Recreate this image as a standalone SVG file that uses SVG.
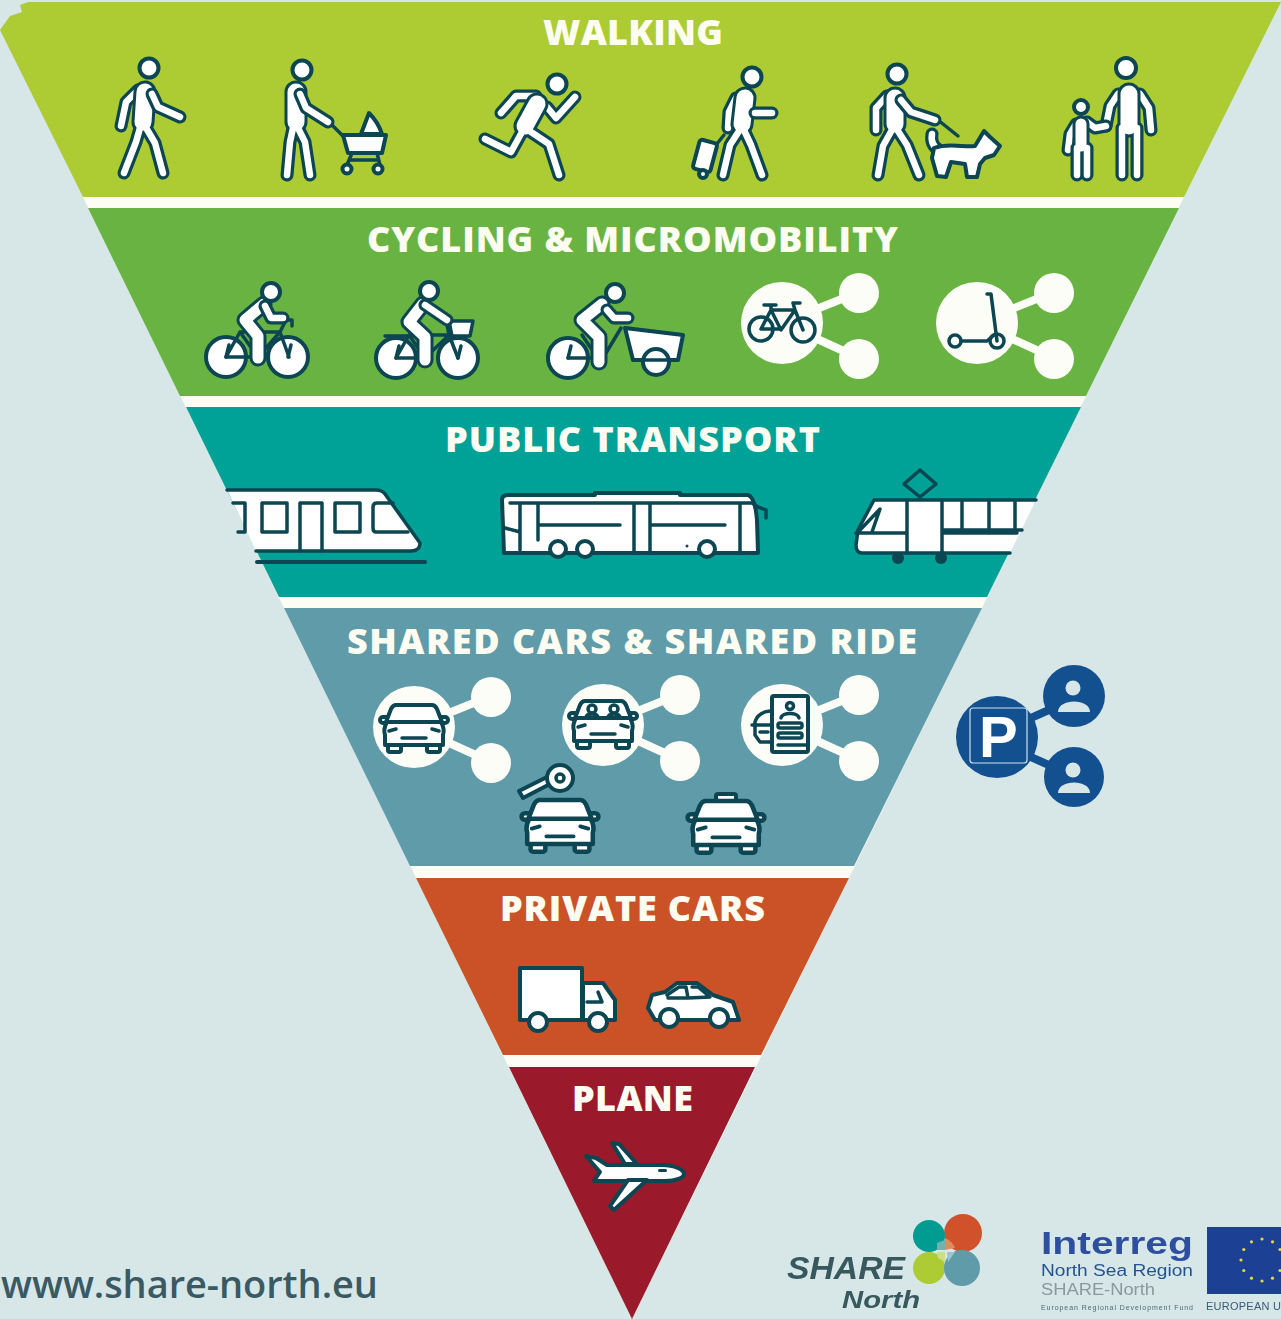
<svg xmlns="http://www.w3.org/2000/svg" width="1281" height="1319" viewBox="0 0 1281 1319">
<style>
.band{stroke:none}
.lab{font-family:"Open Sans",sans-serif;font-weight:800;font-size:36px;fill:#fdfdf2}
.o,.i,.ot,.it,.ob,.ib{fill:none;stroke-linecap:round;stroke-linejoin:round}
.o{stroke:#0b4652;stroke-width:13}.i{stroke:#fff;stroke-width:6.5}
.ot{stroke:#0b4652;stroke-width:23}.it{stroke:#fff;stroke-width:17}
.ob{stroke:#0b4652;stroke-width:17}.ib{stroke:#fff;stroke-width:11}
.v{fill:#fff;stroke:#0b4652;stroke-width:4;stroke-linejoin:round;stroke-linecap:round}
.d{fill:none;stroke:#0b4652;stroke-width:3.5;stroke-linejoin:round;stroke-linecap:round}
.n{fill:#fff;stroke:none}
.s{fill:#fdfdf8}.sl{stroke:#fdfdf8;stroke-width:8}
.pk{fill:#13508f}.pl{stroke:#13508f;stroke-width:8}.pp{fill:#d7e7e8}
.star{fill:#e6d93a}
.logo{font-family:"Liberation Sans",sans-serif}
</style>
<defs>
<filter id="soft" x="-5%" y="-5%" width="110%" height="110%"><feGaussianBlur stdDeviation="0.7"/></filter>
<g id="car">
<rect class="v" x="-34" y="12" width="9" height="6" rx="3"/><rect class="v" x="25" y="12" width="9" height="6" rx="3"/>
<rect class="v" x="-26" y="38" width="13" height="9" rx="2"/><rect class="v" x="13" y="38" width="13" height="9" rx="2"/>
<path class="v" d="M-27 17H27Q31 24 29 30V40H-29V30Q-31 24-27 17Z"/>
<path class="v" d="M-18 0H18Q21 0 23 4L28 17H-28L-23 4Q-21 0-18 0Z"/>
<path class="d" d="M-12 33H12M-25 26L-18 24M25 26L18 24"/>
</g>
<g id="share">
<line class="sl" x1="0" y1="0" x2="77" y2="-31"/><line class="sl" x1="0" y1="0" x2="77" y2="35"/>
<circle class="s" r="41"/><circle class="s" cx="77" cy="-30" r="20"/><circle class="s" cx="77" cy="36" r="20"/>
</g>
<g id="wheelpair"><circle class="v" cx="0" cy="0" r="20"/><path class="d" d="M0 0L3 -12"/></g>
</defs>
<rect width="1281" height="1319" fill="#d7e7e8"/>
<g id="pyramid">
<polygon points="83,195 1185,195 1184,197 632,1319 83,197" fill="#fdfdf4"/>
<polygon id="band-walking" class="band" fill="#adcb33" points="0,30 10,16 22,12 20,5 28,2 1281,2 1184,197 83,197"/>
<polygon id="band-cycling" class="band" fill="#69b342" points="88,208 1179,208 1086,396 180,396"/>
<polygon id="band-public" class="band" fill="#00a196" points="186,407 1081,407 987,597 279,597"/>
<polygon id="band-shared" class="band" fill="#5f9ba8" points="284,608 982,608 854,866 410,866"/>
<polygon id="band-private" class="band" fill="#cb5227" points="416,878 849,878 761,1055 503,1055"/>
<polygon id="band-plane" class="band" fill="#9a1a2b" points="509,1067 755,1067 632,1319"/>
</g>
<g id="labels">
<text class="lab" x="543" y="45" textLength="180">WALKING</text>
<text class="lab" x="367" y="252" textLength="531">CYCLING &amp; MICROMOBILITY</text>
<text class="lab" x="445" y="452" textLength="375">PUBLIC TRANSPORT</text>
<text class="lab" x="347" y="654" textLength="570">SHARED CARS &amp; SHARED RIDE</text>
<text class="lab" x="500" y="921" textLength="265">PRIVATE CARS</text>
<text class="lab" x="572" y="1111" textLength="121">PLANE</text>
</g>
<g id="walker">
<path class="o" d="M138 90L126 102L121 126"/><path class="i" d="M138 90L126 102L121 126"/>
<path class="ot" d="M145 92L143 122"/><path class="o" d="M145 126L155 143L163 173M140 128L136 142L124 173"/>
<path class="it" d="M145 92L143 122"/><path class="i" d="M145 126L155 143L163 173M140 128L136 142L124 173"/>
<path class="o" d="M152 94L158 107L180 117"/><path class="i" d="M152 94L158 107L180 117"/>
<circle class="v" cx="149" cy="68" r="9.5"/>
</g>
<g id="stroller-walker">
<path class="d" d="M330 123L347 140M352 153L347 165M377 153L380 165M350 160H378"/>
<path class="v" d="M369 113L361 134H382Q378 122 369 113Z"/>
<path class="v" d="M343 135H386L382 153H348Z"/>
<circle class="v" cx="347" cy="169" r="4.5"/><circle class="v" cx="378" cy="169" r="4.5"/>
<path class="ot" d="M296 92V122"/><path class="o" d="M297 126L305 142L310 175M293 128L290 142L287 175"/>
<path class="it" d="M296 92V122"/><path class="i" d="M297 126L305 142L310 175M293 128L290 142L287 175"/>
<path class="o" d="M300 94L306 108L328 122"/><path class="i" d="M300 94L306 108L328 122"/>
<circle class="v" cx="302" cy="70" r="9.5"/>
</g>
<g id="runner">
<path class="o" d="M536 96L516 96L501 113"/><path class="i" d="M536 96L516 96L501 113"/>
<path class="o" d="M547 107L556 118L575 97"/><path class="i" d="M547 107L556 118L575 97"/>
<path class="ot" d="M537 104L525 126"/><path class="o" d="M522 132L511 152L485 139M528 130L549 144L559 175"/>
<path class="it" d="M537 104L525 126"/><path class="i" d="M522 132L511 152L485 139M528 130L549 144L559 175"/>
<circle class="v" cx="557" cy="84" r="9.5"/>
</g>
<g id="luggage-walker">
<path class="d" d="M724 135L712 150"/>
<rect class="v" x="696" y="141" width="18" height="30" rx="3" transform="rotate(15 705 156)"/>
<circle class="v" cx="703" cy="174" r="4"/>
<path class="o" d="M736 98L729 112L728 128"/><path class="i" d="M736 98L729 112L728 128"/>
<path class="ot" d="M745 98L742 124"/><path class="o" d="M741 128L730 145L723 175M743 128L751 145L762 175"/>
<path class="it" d="M745 98L742 124"/><path class="i" d="M741 128L730 145L723 175M743 128L751 145L762 175"/>
<path class="o" d="M755 113H772"/><path class="i" d="M755 113H772"/>
<circle class="v" cx="752" cy="77" r="9.5"/>
</g>
<g id="dog-walker">
<path class="d" d="M938 120L958 136"/>
<path class="o" d="M939 150C932 146 931 140 932 134"/><path class="i" d="M939 150C932 146 931 140 932 134"/>
<path class="v" d="M934 148C950 142 965 148 975 146L984 131L990 137L1000 146L994 155L985 158L980 164L977 177L967 177L965 164L951 162L946 177L937 176L932 158Z"/>
<path class="o" d="M887 96L876 108L876 130"/><path class="i" d="M887 96L876 108L876 130"/>
<path class="ot" d="M895 98V124"/><path class="o" d="M893 128L883 146L878 175M896 128L907 145L919 175"/>
<path class="it" d="M895 98V124"/><path class="i" d="M893 128L883 146L878 175M896 128L907 145L919 175"/>
<path class="o" d="M901 100L911 112L935 120"/><path class="i" d="M901 100L911 112L935 120"/>
<circle class="v" cx="897" cy="74" r="9.5"/>
</g>
<g id="adult-child">
<path class="o" d="M1118 94L1110 106L1106 126M1140 94L1149 108L1151 130"/><path class="i" d="M1118 94L1110 106L1106 126M1140 94L1149 108L1151 130"/>
<path class="ot" d="M1129 94V126"/><path class="o" d="M1122 128V175M1137 128V175"/>
<path class="it" d="M1129 94V126"/><path class="i" d="M1122 128V175M1137 128V175"/>
<circle class="v" cx="1126" cy="68" r="10"/>
<path class="o" d="M1076 124L1070 134L1068 150M1087 122L1095 128L1106 126"/><path class="i" d="M1076 124L1070 134L1068 150M1087 122L1095 128L1106 126"/>
<path class="ob" d="M1081 124V146"/><path class="o" d="M1077 148V175M1087 148V175"/>
<path class="ib" d="M1081 124V146"/><path class="i" d="M1077 148V175M1087 148V175"/>
<circle class="v" cx="1081" cy="107" r="7"/>
</g>
<g id="bike">
<use href="#wheelpair" x="226" y="357"/><use href="#wheelpair" x="288" y="357"/>
<path class="d" d="M226 357L240 332H280L289 357M240 332L258 357L280 332M280 332L286 320L292 320L292 326M226 357H258"/>
<path class="ob" d="M264 304L245 320L258 336L258 358"/><path class="ib" d="M264 304L245 320L258 336L258 358"/>
<path class="o" d="M265 306L271 318L283 318"/><path class="i" d="M265 306L271 318L283 318"/>
<circle class="v" cx="271" cy="292" r="9"/>
</g>
<g id="basket-bike">
<use href="#wheelpair" x="396" y="358"/><use href="#wheelpair" x="458" y="358"/>
<path class="d" d="M385 336H408M396 358L409 335H449L458 358M409 335L425 358L449 335M449 335L446 320M396 358H425"/>
<path class="d" d="M449 321H473L470 336H452Z" style="fill:#fff"/>
<path class="ob" d="M423 304L409 322L425 337L425 360"/><path class="ib" d="M423 304L409 322L425 337L425 360"/>
<path class="o" d="M425 305L447 320"/><path class="i" d="M425 305L447 320"/>
<circle class="v" cx="429" cy="291" r="9"/>
</g>
<g id="cargo-bike">
<use href="#wheelpair" x="568" y="358"/>
<path class="v" d="M625 328L683 335L678 360H633Z"/>
<circle class="v" cx="656" cy="362" r="13"/>
<path class="d" d="M643 360H669"/>
<path class="d" d="M621 328L606 353M568 358H599M582 335L599 360"/>
<path class="ob" d="M602 304L582 320L599 337L599 362"/><path class="ib" d="M602 304L582 320L599 337L599 362"/>
<path class="o" d="M607 310L614 318L628 318"/><path class="i" d="M607 310L614 318L628 318"/>
<circle class="v" cx="615" cy="293" r="9"/>
</g>
<g id="shared-bike">
<use href="#share" x="782" y="323"/>
<g class="d"><circle cx="761" cy="329" r="12"/><circle cx="803" cy="330" r="12"/>
<path d="M761 329L771 310H795L803 330M771 310L781 330L795 310M764 305H776M771 305V310M793 303L795 310M793 303H800M761 329H781"/></g>
</g>
<g id="shared-scooter">
<use href="#share" x="977" y="323"/>
<g class="d"><circle cx="955" cy="341" r="6"/><circle cx="997" cy="341" r="7"/>
<path d="M961 341H987L994 335M997 341L991 294H987"/></g>
</g>
<g id="train">
<path class="n" d="M227 490H376Q382 490 385 494L420 543Q420 551 411 551H256Z"/>
<path class="d" d="M227 490H376Q382 490 385 494L420 543Q420 551 411 551H256"/>
<path class="d" d="M233 503H245V532H238M262 503H287V532H262ZM300 551V503H322V551M335 503H360V532H335ZM408 532H376Q373 532 373 528V507Q373 503 377 503H393"/>
<path class="d" d="M257 562H425" style="stroke-width:4"/>
</g>
<g id="bus">
<path class="v" d="M508 495H595V493H680V495H748Q755 497 757 520L758 553H504L502 500Q502 495 508 495Z"/>
<path class="d" d="M510 503H752L758 507L766 510V518M520 503V550M538 503V540M538 525H620M634 503V553M650 503V553M650 525H725M740 503V553M505 528L520 532"/>
<circle class="v" cx="558" cy="549" r="8"/><circle class="v" cx="585" cy="549" r="8"/><circle class="v" cx="707" cy="549" r="8"/>
<circle cx="687" cy="546" r="1.5" fill="#0b4652"/>
</g>
<g id="tram">
<path class="d" d="M920 470L936 484L920 497L904 484Z"/>
<circle cx="898" cy="558" r="6" fill="#0b4652"/><circle cx="941" cy="558" r="6" fill="#0b4652"/>
<path class="n" d="M874 500H1036L1010 553H862Q856 553 856 545L858 530Z"/>
<path class="d" d="M1036 500H874L858 530L856 545Q856 553 862 553H1010"/>
<path class="d" d="M907 500V553M942 500V553M856 533H907M942 530H1022M942 533H1017M860 530L880 509L872 532M962 500V530M989 500V530M1015 500V530"/>
</g>
<g id="shared-car"><use href="#share" x="414" y="727"/><use href="#car" x="414" y="705"/></g>
<g id="shared-ride">
<use href="#share" x="603" y="725"/><use href="#car" x="603" y="701"/>
<g class="d"><circle cx="592" cy="709" r="4"/><circle cx="614" cy="709" r="4"/><path d="M586 717C587 713 597 713 598 717M608 717C609 713 619 713 620 717"/></g>
</g>
<g id="shared-app">
<use href="#share" x="782" y="725"/>
<path class="d" d="M770 711Q758 712 755 722V735L760 742H770M752 725H770M760 732H768"/>
<rect class="v" x="772" y="696" width="36" height="56" rx="2"/>
<circle class="d" cx="790" cy="706" r="3.5"/><path class="d" d="M781 718C782 712 798 712 799 718M778 745H806"/>
<rect class="d" x="778" y="723" width="24" height="5" rx="2"/><rect class="d" x="778" y="733" width="24" height="5" rx="2"/>
</g>
<g id="key-car">
<path class="v" d="M519 791L549 776L552 783L523 798Z"/>
<circle class="v" cx="560" cy="778" r="13"/>
<circle class="d" cx="560" cy="778" r="4"/>
<use href="#car" transform="translate(560 800) scale(1.13 1.1)"/>
</g>
<g id="taxi">
<rect class="v" x="716" y="794" width="20" height="9" rx="2"/>
<use href="#car" transform="translate(726 801) scale(1.13 1.1)"/>
</g>
<g id="truck">
<rect class="v" x="520" y="968" width="62" height="52"/>
<path class="v" d="M583 983H603L615 1000V1020H583Z"/>
<path class="d" d="M587 1002H602L598 992"/>
<circle class="v" cx="538" cy="1022" r="9"/><circle class="v" cx="598" cy="1022" r="9"/>
</g>
<g id="private-car">
<path class="v" d="M648 1008L652 995L665 992L677 983H697L713 995L733 1002L739 1020H655Z"/>
<path class="d" d="M667 995L679 987H686L688 998M692 987H698L710 997L688 998H668"/>
<circle class="v" cx="669" cy="1018" r="9"/><circle class="v" cx="719" cy="1018" r="9"/>
</g>
<g id="plane">
<path class="v" d="M612 1143L619 1144L637 1164H625Z"/>
<path class="v" d="M586 1156L596 1158L607 1165H662C675 1165 684 1170 684 1174C684 1178 676 1181 665 1181H594L600 1172Z"/>
<path class="v" d="M628 1180H647L614 1210L610 1206Z"/>
<rect x="658" y="1169" width="9" height="3" rx="1.5" fill="#0b4652"/>
</g>
<g id="parking-share">
<line class="pl" x1="1015" y1="725" x2="1060" y2="705"/><line class="pl" x1="1015" y1="750" x2="1060" y2="770"/>
<circle class="pk" cx="997" cy="737" r="41"/><circle class="pk" cx="1074" cy="696" r="31"/><circle class="pk" cx="1074" cy="777" r="30"/>
<rect x="970" y="708" width="57" height="55" rx="3" fill="none" stroke="#cfe0e8" stroke-width="1.2"/>
<text class="logo" x="979" y="757" font-weight="700" font-size="58" fill="#fff">P</text>
<circle class="pp" cx="1073" cy="688" r="7.5"/><path class="pp" d="M1058 712C1058 698 1090 698 1090 712Z"/>
<circle class="pp" cx="1073" cy="770" r="7.5"/><path class="pp" d="M1058 793C1058 779 1090 779 1090 793Z"/>
</g>
<text id="url" x="1" y="1298" font-family="Open Sans,sans-serif" font-weight="600" font-size="38" fill="#3a5a63" textLength="377">www.share-north.eu</text>
<g id="share-north-logo" filter="url(#soft)">
<circle cx="963" cy="1233" r="19" fill="#d0512c"/><circle cx="929" cy="1236" r="16" fill="#049c92"/>
<circle cx="929" cy="1268" r="16" fill="#adcb33"/><circle cx="962" cy="1268" r="18" fill="#5f9ba8"/>
<path d="M945 1238A18 18 0 0 1 955 1248L945 1250Z" fill="#e08a5e"/><path d="M937 1250H945V1240L937 1243Z" fill="#6fb3ae"/><path d="M937 1252H945V1262L938 1258Z" fill="#cfdc88"/><path d="M947 1252H955L948 1262Z" fill="#9cc4cc"/>
<text class="logo" x="787" y="1279" font-weight="700" font-style="italic" font-size="32" fill="#38585e" textLength="118" lengthAdjust="spacingAndGlyphs">SHARE</text>
<text class="logo" x="842" y="1308" font-weight="700" font-style="italic" font-size="24" fill="#38585e" textLength="78" lengthAdjust="spacingAndGlyphs">North</text>
</g>
<g id="interreg-logo" filter="url(#soft)">
<text class="logo" x="1041" y="1254" font-weight="700" font-size="32" fill="#2f4f9f" textLength="152" lengthAdjust="spacingAndGlyphs">Interreg</text>
<text class="logo" x="1041" y="1276" font-size="16" fill="#24558f" textLength="152" lengthAdjust="spacingAndGlyphs">North Sea Region</text>
<text class="logo" x="1041" y="1295" font-size="16" fill="#8a9a9c" textLength="114" lengthAdjust="spacingAndGlyphs">SHARE-North</text>
<text class="logo" x="1041" y="1310" font-size="7" fill="#4a6a78" textLength="152">European Regional Development Fund</text>
</g>
<g id="eu-flag" filter="url(#soft)">
<rect x="1207" y="1227" width="74" height="67" fill="#1f3f94"/>
<g class="star">
<circle cx="1262" cy="1239" r="1.6"/><circle cx="1272.5" cy="1241.8" r="1.6"/><circle cx="1280" cy="1249.5" r="1.6"/><circle cx="1280" cy="1270.5" r="1.6"/><circle cx="1272.5" cy="1278.2" r="1.6"/><circle cx="1262" cy="1281" r="1.6"/><circle cx="1251.5" cy="1278.2" r="1.6"/><circle cx="1243.8" cy="1270.5" r="1.6"/><circle cx="1241" cy="1260" r="1.6"/><circle cx="1243.8" cy="1249.5" r="1.6"/><circle cx="1251.5" cy="1241.8" r="1.6"/>
</g>
<text class="logo" x="1206" y="1310" font-size="11" fill="#3a5a78" textLength="75">EUROPEAN U</text>
</g>
</svg>
